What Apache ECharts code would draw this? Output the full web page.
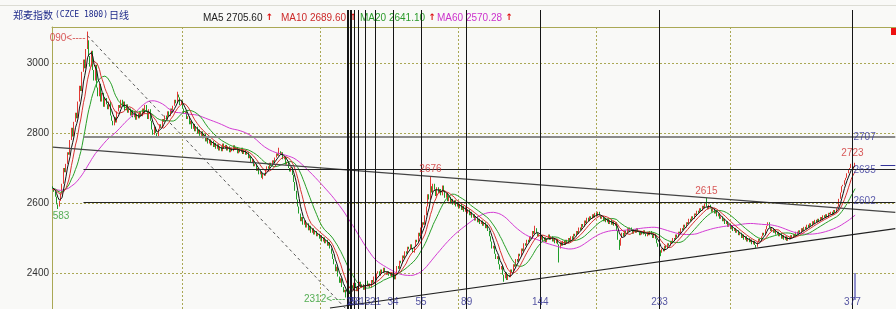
<!DOCTYPE html>
<html>
<head>
<meta charset="utf-8">
<script src="https://cdn.jsdelivr.net/npm/echarts@6/dist/echarts.min.js"></script>
<style>
html, body { margin: 0; padding: 0; background: #f9f9f7; }
#main { width: 896px; height: 309px; }
</style>
</head>
<body>
<div id="main"></div>
<script>
// closes before the first visible bar (only feed the moving averages)
var earlierCloses = [
  2650, 2638, 2645, 2660, 2648, 2635, 2642, 2628, 2636, 2650,
  2655, 2642, 2630, 2625, 2638, 2646, 2640, 2632, 2620, 2628,
  2642, 2650, 2645, 2658, 2662, 2648, 2640, 2632, 2626, 2618,
  2625, 2635, 2648, 2652, 2640, 2630, 2622, 2615, 2628, 2640,
  2645, 2638, 2650, 2662, 2655, 2645, 2632, 2625, 2636, 2648,
  2642, 2630, 2622, 2635, 2645, 2650, 2638, 2644, 2648
];

// daily closes
var closes = [
  2640, 2632, 2618, 2596, 2590, 2606, 2628, 2655, 2700, 2688,
  2712, 2745, 2738, 2780, 2815, 2790, 2832, 2858, 2842, 2890,
  2935, 2920, 2975, 3010, 2985, 3040, 3065, 3020, 2990, 3035,
  2980, 2950, 2995, 2930, 2905, 2940, 2890, 2915, 2875, 2900,
  2882, 2868, 2890, 2850, 2835, 2822, 2845, 2830, 2862, 2880,
  2872, 2895, 2878, 2890, 2865, 2882, 2858, 2870, 2850, 2866,
  2845, 2862, 2838, 2855, 2842, 2860, 2848, 2870, 2856, 2880,
  2862, 2840, 2868, 2835, 2810, 2795, 2818, 2800, 2790, 2812,
  2825, 2815, 2840, 2832, 2850, 2838, 2862, 2848, 2870, 2858,
  2878, 2895, 2885, 2910, 2902, 2880, 2892, 2870, 2855, 2862,
  2840, 2848, 2825, 2835, 2812, 2826, 2805, 2818, 2798, 2810,
  2792, 2805, 2785, 2798, 2776, 2790, 2770, 2782, 2765, 2778,
  2760, 2772, 2755, 2768, 2750, 2762, 2748, 2770, 2755, 2766,
  2750, 2762, 2745, 2758, 2748, 2765, 2752, 2760, 2742, 2755,
  2745, 2758, 2740, 2752, 2738, 2746, 2728, 2735, 2715, 2725,
  2705, 2712, 2692, 2700, 2682, 2690, 2672, 2685, 2678, 2695,
  2705, 2698, 2715, 2708, 2722, 2715, 2730, 2742, 2735, 2748,
  2738, 2745, 2725, 2732, 2710, 2718, 2700, 2690, 2702, 2680,
  2660, 2635, 2610, 2590, 2570, 2548, 2560, 2538, 2550, 2530,
  2542, 2522, 2535, 2515, 2528, 2510, 2520, 2505, 2512, 2498,
  2508, 2490, 2502, 2485, 2495, 2478, 2488, 2470, 2455, 2440,
  2425, 2405, 2418, 2390, 2372, 2385, 2360, 2345, 2352, 2330,
  2335, 2350, 2342, 2365, 2355, 2372, 2360, 2348, 2362, 2375,
  2358, 2368, 2352, 2365, 2378, 2362, 2370, 2358, 2380, 2372,
  2390, 2382, 2398, 2405, 2392, 2410, 2400, 2415, 2402, 2395,
  2405, 2392, 2400, 2388, 2395, 2382, 2398, 2420, 2412, 2435,
  2428, 2450, 2442, 2462, 2455, 2475, 2468, 2482, 2470, 2458,
  2475, 2495, 2488, 2515, 2505, 2530, 2545, 2538, 2565, 2590,
  2625, 2610, 2648, 2630, 2655, 2638, 2620, 2645, 2628, 2640,
  2622, 2650, 2632, 2615, 2628, 2605, 2618, 2598, 2612, 2595,
  2608, 2590, 2602, 2585, 2598, 2580, 2592, 2575, 2588, 2570,
  2582, 2565, 2575, 2558, 2568, 2550, 2562, 2545, 2555, 2540,
  2550, 2535, 2545, 2528, 2538, 2520, 2505, 2490, 2470, 2478,
  2455, 2440, 2448, 2425, 2410, 2420, 2395, 2385, 2402, 2380,
  2395, 2388, 2410, 2402, 2425, 2418, 2440, 2432, 2455, 2448,
  2470, 2462, 2485, 2478, 2495, 2488, 2505, 2498, 2520, 2512,
  2528, 2515, 2505, 2512, 2495, 2508, 2490, 2502, 2488, 2498,
  2510, 2495, 2505, 2490, 2500, 2485, 2498, 2482, 2470, 2488,
  2478, 2492, 2480, 2495, 2485, 2500, 2490, 2505, 2495, 2512,
  2505, 2520, 2512, 2530, 2522, 2540, 2532, 2550, 2542, 2558,
  2548, 2562, 2555, 2568, 2558, 2572, 2562, 2575, 2565, 2555,
  2562, 2548, 2558, 2545, 2555, 2540, 2552, 2538, 2548, 2535,
  2545, 2520, 2495, 2478, 2500, 2515, 2505, 2522, 2512, 2528,
  2518, 2530, 2520, 2512, 2525, 2515, 2528, 2518, 2508, 2520,
  2510, 2522, 2512, 2505, 2518, 2508, 2520, 2510, 2500, 2512,
  2498, 2485, 2475, 2465, 2458, 2470, 2462, 2478, 2470, 2485,
  2478, 2492, 2485, 2500, 2495, 2510, 2502, 2518, 2512, 2528,
  2522, 2538, 2530, 2545, 2540, 2555, 2548, 2562, 2555, 2570,
  2565, 2578, 2572, 2585, 2578, 2592, 2585, 2598, 2590, 2582,
  2595, 2585, 2575, 2585, 2570, 2578, 2562, 2570, 2555, 2562,
  2548, 2555, 2540, 2548, 2532, 2540, 2525, 2535, 2520, 2528,
  2515, 2522, 2508, 2515, 2500, 2510, 2495, 2505, 2490, 2500,
  2488, 2496, 2482, 2492, 2480, 2475, 2488, 2498, 2492, 2505,
  2515, 2508, 2525, 2535, 2545, 2530, 2520, 2528, 2515, 2522,
  2510, 2518, 2505, 2512, 2498, 2508, 2495, 2505, 2492, 2502,
  2496, 2508, 2500, 2512, 2505, 2518, 2510, 2522, 2515, 2528,
  2520, 2532, 2525, 2538, 2530, 2542, 2535, 2548, 2540, 2552,
  2545, 2555, 2548, 2560, 2552, 2565, 2558, 2568, 2560, 2572,
  2568, 2575, 2566, 2580, 2572, 2585, 2590, 2612, 2630, 2648,
  2652, 2665, 2672, 2685, 2696, 2700, 2712, 2698, 2705, 2715
];

// shadows that stick out of the bodies (bar index -> price)
var highMarks = {26: 3090, 93: 2918, 169: 2758, 282: 2676, 360: 2535, 488: 2615, 597: 2723};
var lowMarks = {4: 2583, 157: 2668, 220: 2312, 337: 2375, 378: 2430, 423: 2466, 454: 2448, 525: 2472};

var slotCount = 630;           // bars the screen holds
var fibOrigin = 220;           // bar of the 2312 low
var fibSteps = [0, 1, 2, 3, 5, 8, 13, 21, 34, 55, 89, 144, 233, 377];
var monthStarts = [97, 200, 303, 406, 506];

var maLegend = [
  ['MA5', '2705.60', '#222222', 203],
  ['MA10', '2689.60', '#cc2a2a', 281],
  ['MA20', '2641.10', '#2a9a2a', 360],
  ['MA60', '2570.28', '#cc33cc', 437]
];

// hand drawn lines: [[bar, price], [bar, price], colour, width, type]
var drawnLines = [
  [[0, 2759.5], [629, 2573], '#444', 1.2, 'solid'],
  [[207, 2300], [629, 2527], '#222', 1.2, 'solid'],
  [[26, 3078], [222, 2285], '#555', 1, [3, 3]],
  [[23, 2788.6], [629, 2788.6], '#8a8a8a', 2, 'solid'],
  [[23, 2697], [629, 2697], '#222', 1, 'solid'],
  [[23, 2603], [629, 2603], '#222', 1, 'solid'],
  [[618, 2708.6], [629, 2708.6], '#333399', 1, 'solid'],
  [[599, 2400], [599, 2323], '#9090cc', 2, 'solid']
];

// price tags: bar, price, text, position, colour, offset
var priceTags = [
  [26, 3090, '090<----', 'left', '#d03030', [0, 7]],
  [4, 2583, '583', 'bottom', '#2a9a2a', [3, 0]],
  [220, 2312, '2312<----', 'left', '#2a9a2a', [0, -5]],
  [282, 2676, '2676', 'top', '#d03030', [0, 0]],
  [488, 2615, '2615', 'top', '#d03030', [0, 0]],
  [597, 2723, '2723', 'top', '#d03030', [0, 0]],
  [600, 2786.6, '2707', 'right', '#333399', [-5, 0]],
  [600, 2694, '2635', 'right', '#333399', [-5, 0]],
  [600, 2605.7, '2602', 'right', '#333399', [-5, 0]]
];

var cats = [];
for (var s = 0; s < slotCount; s++) cats.push(String(s));

var candles = closes.map(function (c, i) {
  var o = i === 0 ? earlierCloses[earlierCloses.length - 1] : closes[i - 1];
  var lo = Math.min(o, c), hi = Math.max(o, c);
  if (highMarks[i]) hi = highMarks[i];
  if (lowMarks[i]) lo = lowMarks[i];
  return [o, c, lo, hi];
});

function movingAvg(n) {
  var all = earlierCloses.concat(closes), off = earlierCloses.length, out = [];
  for (var i = 0; i < closes.length; i++) {
    var sum = 0;
    for (var k = 0; k < n; k++) sum += all[off + i - k];
    out.push(+(sum / n).toFixed(2));
  }
  return out;
}

function maSeries(n, color) {
  return {
    type: 'line', name: 'MA' + n, data: movingAvg(n),
    xAxisIndex: 0, yAxisIndex: 0,
    showSymbol: false, symbol: 'none', smooth: false,
    lineStyle: { color: color, width: 1 }, z: 3
  };
}

var olive = '#aaa855';
var dom = document.getElementById('main');
var myChart = echarts.init(dom, null, { renderer: 'canvas' });

var graphics = [
  { type: 'line', shape: { x1: 0, y1: 5.5, x2: 896, y2: 5.5 }, style: { stroke: '#dcdcd4', lineWidth: 1 } },
  { type: 'rect', shape: { x: 891, y: 27, width: 5, height: 8 }, style: { fill: '#ee1111' } },
  {
    type: 'text', left: 13, top: 10,
    style: {
      text: '{c|郑麦指数}{m|(CZCE 1800)}{c|日线}',
      rich: {
        c: { fontFamily: 'Noto Sans CJK SC', fontSize: 10, fill: '#1e2a8a' },
        m: { fontFamily: 'DejaVu Sans Mono', fontSize: 8, fill: '#1e2a8a', padding: [0, 1, 0, 2] }
      }
    }
  }
];
maLegend.forEach(function (m) {
  graphics.push({
    type: 'text', left: m[3], top: 12,
    style: {
      text: '{t|' + m[0] + ' ' + m[1] + '} {a|↑}',
      rich: {
        t: { fontFamily: 'Liberation Sans', fontSize: 10, fill: m[2] },
        a: { fontFamily: 'DejaVu Sans', fontSize: 9, fill: '#dd1111', fontWeight: 'bold' }
      }
    }
  });
});

var option = {
  animation: false,
  backgroundColor: '#f9f9f7',
  graphic: graphics,
  grid: [
    // the plot runs past the window bottom so the 200-step ticks start at 2200
    { left: 52, right: 0, top: 27, height: 316, containLabel: false, outerBoundsMode: 'none' },
    { left: 52, right: 0, top: 10, height: 299, containLabel: false, outerBoundsMode: 'none' }
  ],
  xAxis: [
    {
      type: 'category', gridIndex: 0, data: cats, boundaryGap: true,
      axisLine: { show: false }, axisTick: { show: false }, axisLabel: { show: false },
      splitLine: {
        show: true,
        interval: function (idx) { return monthStarts.indexOf(idx) >= 0; },
        lineStyle: { color: olive, type: [2, 2], width: 1 }
      }
    },
    {
      type: 'category', gridIndex: 0, data: cats, position: 'top',
      axisLine: { show: true, lineStyle: { color: olive, width: 1 } },
      axisTick: { show: false }, axisLabel: { show: false }, splitLine: { show: false }
    },
    { type: 'category', gridIndex: 1, data: cats, boundaryGap: true, show: false }
  ],
  yAxis: [
    {
      type: 'value', gridIndex: 0, min: 2200, max: 3103, interval: 200,
      axisLine: { show: true, lineStyle: { color: olive, width: 1 } },
      axisTick: { show: false },
      axisLabel: {
        showMaxLabel: false, color: '#333', fontSize: 10, margin: 3,
        fontFamily: 'Liberation Sans',
        formatter: function (v) { return String(v); }
      },
      splitLine: { show: true, lineStyle: { color: olive, type: [2, 2], width: 1 } }
    },
    { type: 'value', gridIndex: 1, min: 0, max: 1, show: false }
  ],
  series: [
    {
      type: 'candlestick', name: 'K', data: candles,
      xAxisIndex: 0, yAxisIndex: 0, large: false,
      barWidth: 1,
      itemStyle: {
        color: '#e23a34', color0: '#1f9e2a',
        borderColor: '#e23a34', borderColor0: '#1f9e2a', borderWidth: 1
      },
      markLine: {
        silent: true, symbol: ['none', 'none'], label: { show: false },
        data: drawnLines.map(function (l) {
          return [
            { coord: l[0], lineStyle: { color: l[2], width: l[3], type: l[4] } },
            { coord: l[1] }
          ];
        })
      }
    },
    maSeries(60, '#d43cd4'),
    maSeries(20, '#28a028'),
    maSeries(10, '#d83030'),
    maSeries(5, '#111111'),
    {
      type: 'scatter', xAxisIndex: 0, yAxisIndex: 0, symbolSize: 0, silent: true, z: 6,
      data: priceTags.map(function (t) {
        return {
          value: [t[0], t[1]],
          label: {
            show: true, formatter: t[2], position: t[3], distance: 2, offset: t[5],
            color: t[4], fontSize: 10, fontFamily: 'Liberation Sans'
          }
        };
      })
    },
    {
      type: 'scatter', xAxisIndex: 2, yAxisIndex: 1, symbolSize: 0, silent: true, z: 6,
      data: fibSteps.filter(function (f) { return f > 0; }).map(function (f) {
        return {
          value: [fibOrigin + f, 0.0234],
          label: {
            show: true, formatter: String(f), position: 'inside',
            color: '#2b2b8c', fontSize: 10, fontFamily: 'Liberation Sans'
          }
        };
      }),
      markLine: {
        silent: true, symbol: ['none', 'none'], label: { show: false },
        lineStyle: { color: '#151515', width: 1, type: 'solid' },
        data: fibSteps.map(function (f) { return { xAxis: fibOrigin + f }; })
      }
    }
  ]
};

myChart.setOption(option);
</script>
</body>
</html>
